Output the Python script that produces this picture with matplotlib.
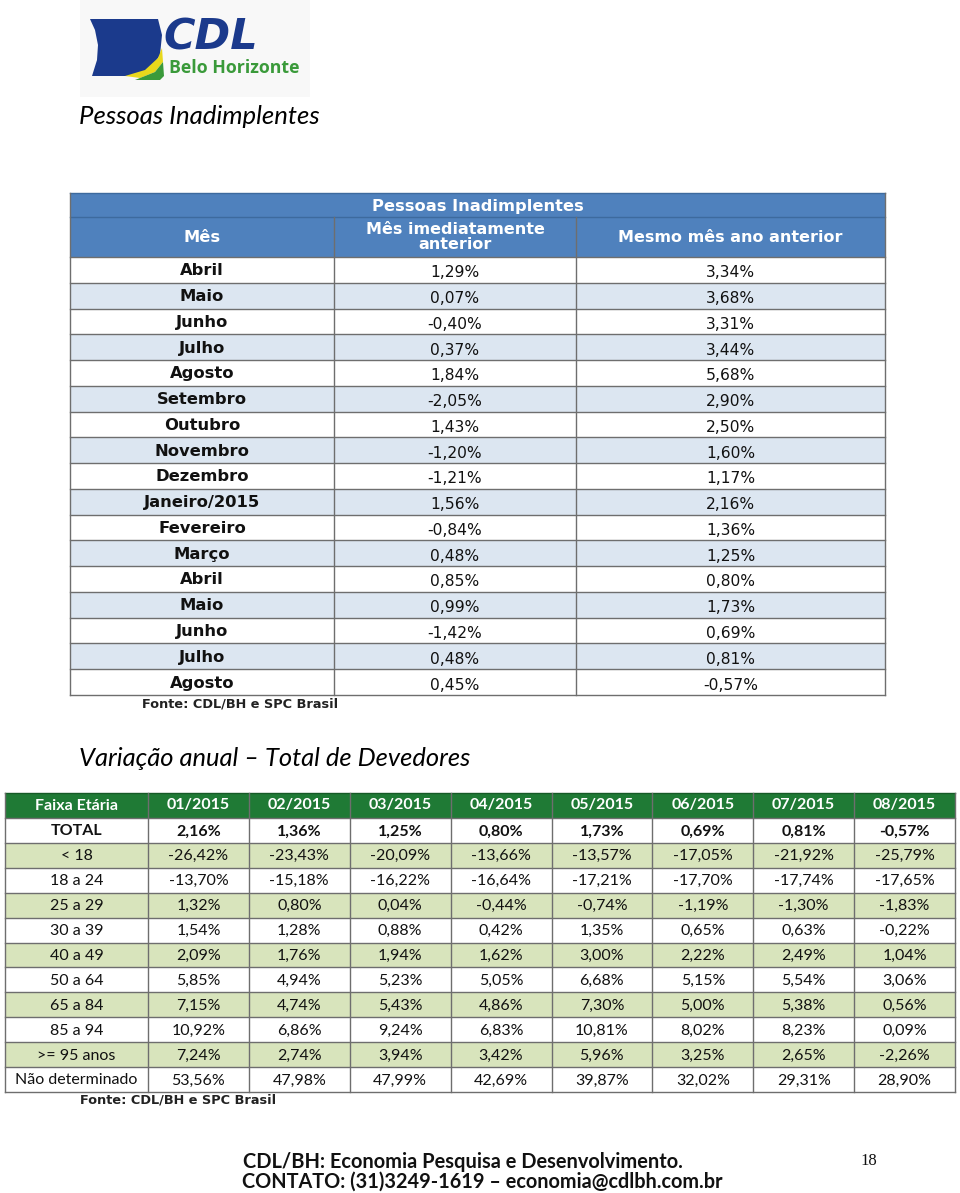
import matplotlib
matplotlib.use("Agg")
import matplotlib.pyplot as plt
from matplotlib.patches import Rectangle, Polygon

# ---------------- data ----------------
meses = ['Abril', 'Maio', 'Junho', 'Julho', 'Agosto', 'Setembro', 'Outubro',
         'Novembro', 'Dezembro', 'Janeiro/2015', 'Fevereiro', 'Março', 'Abril',
         'Maio', 'Junho', 'Julho', 'Agosto']
mes_anterior = [1.29, 0.07, -0.40, 0.37, 1.84, -2.05, 1.43, -1.20, -1.21, 1.56,
                -0.84, 0.48, 0.85, 0.99, -1.42, 0.48, 0.45]
ano_anterior = [3.34, 3.68, 3.31, 3.44, 5.68, 2.90, 2.50, 1.60, 1.17, 2.16,
                1.36, 1.25, 0.80, 1.73, 0.69, 0.81, -0.57]

periodos = ['01/2015', '02/2015', '03/2015', '04/2015', '05/2015', '06/2015',
            '07/2015', '08/2015']
faixas = ['TOTAL', '< 18', '18 a 24', '25 a 29', '30 a 39', '40 a 49',
          '50 a 64', '65 a 84', '85 a 94', '>= 95 anos', 'Não determinado']
v_total = [2.16, 1.36, 1.25, 0.80, 1.73, 0.69, 0.81, -0.57]
v_menor18 = [-26.42, -23.43, -20.09, -13.66, -13.57, -17.05, -21.92, -25.79]
v_18_24 = [-13.70, -15.18, -16.22, -16.64, -17.21, -17.70, -17.74, -17.65]
v_25_29 = [1.32, 0.80, 0.04, -0.44, -0.74, -1.19, -1.30, -1.83]
v_30_39 = [1.54, 1.28, 0.88, 0.42, 1.35, 0.65, 0.63, -0.22]
v_40_49 = [2.09, 1.76, 1.94, 1.62, 3.00, 2.22, 2.49, 1.04]
v_50_64 = [5.85, 4.94, 5.23, 5.05, 6.68, 5.15, 5.54, 3.06]
v_65_84 = [7.15, 4.74, 5.43, 4.86, 7.30, 5.00, 5.38, 0.56]
v_85_94 = [10.92, 6.86, 9.24, 6.83, 10.81, 8.02, 8.23, 0.09]
v_95 = [7.24, 2.74, 3.94, 3.42, 5.96, 3.25, 2.65, -2.26]
v_nd = [53.56, 47.98, 47.99, 42.69, 39.87, 32.02, 29.31, 28.90]


def pct(v):
    return f"{v:.2f}".replace('.', ',') + '%'


fig = plt.figure(figsize=(9.6, 11.93), dpi=100)
ax = fig.add_axes([0, 0, 1, 1])
ax.set_xlim(0, 960)
ax.set_ylim(1193, 0)
ax.axis('off')

# ---------------- logo ----------------
ax.add_patch(Rectangle((80, 0), 230, 97, facecolor='#f8f8f8', edgecolor='none'))
ax.add_patch(Polygon([(90, 19), (158, 19), (162, 35), (160, 55), (150, 70),
                      (135, 76), (92, 76), (97, 60), (98, 45), (95, 30)],
                     closed=True, facecolor='#1b3a8c', edgecolor='none'))
ax.add_patch(Polygon([(125, 76), (145, 70), (158, 58), (162, 48), (163, 62),
                      (155, 72), (140, 78)], closed=True,
                     facecolor='#e8d81c', edgecolor='none'))
ax.add_patch(Polygon([(140, 78), (155, 72), (163, 62), (164, 76), (160, 80),
                      (135, 80)], closed=True, facecolor='#3a9a3a', edgecolor='none'))
ax.text(163, 37, 'CDL', fontsize=31, fontweight='bold', style='italic',
        color='#1b3a8c', va='center', ha='left', family='DejaVu Sans')
ax.text(169, 68, 'Belo Horizonte', fontsize=12.8, fontweight='bold',
        color='#3a9a3a', va='center', ha='left', family='Open Sans')

# ---------------- titles ----------------
ax.text(79, 116, 'Pessoas Inadimplentes', fontsize=18.5, style='italic',
        va='center', ha='left', family='Lato')
ax.text(79, 758, 'Variação anual – Total de Devedores', fontsize=18.4,
        style='italic', va='center', ha='left', family='Lato')

# ---------------- table 1 ----------------
line_c = '#6e6e6e'
hdr_blue = '#4f81bd'
row_blue = '#dce6f1'
x0, x1, x2, x3 = 70, 334, 576, 885
y_h0, y_h1, y_h2 = 193, 217, 257
rh = 25.76
f1 = 'DejaVu Sans'

ax.add_patch(Rectangle((x0, y_h0), x3 - x0, y_h2 - y_h0, facecolor=hdr_blue,
                       edgecolor='none'))
ax.text((x0 + x3) / 2, (y_h0 + y_h1) / 2 + 1, 'Pessoas Inadimplentes', fontsize=11.7,
        fontweight='bold', color='white', ha='center', va='center', family=f1)
ax.text((x0 + x1) / 2, (y_h1 + y_h2) / 2, 'Mês', fontsize=11.7, fontweight='bold',
        color='white', ha='center', va='center', family=f1)
ax.text((x1 + x2) / 2, (y_h1 + y_h2) / 2, 'Mês imediatamente\nanterior', fontsize=11.5,
        fontweight='bold', color='white', ha='center', va='center', family=f1,
        linespacing=0.95)
ax.text((x2 + x3) / 2, (y_h1 + y_h2) / 2 + 1, 'Mesmo mês ano anterior', fontsize=11.5,
        fontweight='bold', color='white', ha='center', va='center', family=f1)

for i, m in enumerate(meses):
    yt = y_h2 + i * rh
    fc = row_blue if i % 2 == 1 else 'white'
    ax.add_patch(Rectangle((x0, yt), x3 - x0, rh, facecolor=fc, edgecolor='none'))
    yc = yt + rh / 2 + 1
    ax.text((x0 + x1) / 2, yc, m, fontsize=11.8, fontweight='bold', ha='center',
            va='center', family=f1, color='#111111')
    ax.text((x1 + x2) / 2, yc + 2, pct(mes_anterior[i]), fontsize=11.2, ha='center',
            va='center', family=f1, color='#111111')
    ax.text((x2 + x3) / 2, yc + 2, pct(ano_anterior[i]), fontsize=11.2, ha='center',
            va='center', family=f1, color='#111111')

y_end1 = y_h2 + len(meses) * rh
for k in range(len(meses) + 1):
    yy = y_h2 + k * rh
    ax.plot([x0, x3], [yy, yy], color=line_c, lw=1)
ax.plot([x0, x3], [y_h1, y_h1], color='#3d6a9e', lw=1)
ax.plot([x0, x3], [y_h0, y_h0], color='#3d6a9e', lw=1)
ax.plot([x1, x1], [y_h1, y_end1], color=line_c, lw=1)
ax.plot([x2, x2], [y_h1, y_end1], color=line_c, lw=1)
ax.plot([x0, x0], [y_h0, y_end1], color=line_c, lw=1)
ax.plot([x3, x3], [y_h0, y_end1], color=line_c, lw=1)
ax.text(240, 704, 'Fonte: CDL/BH e SPC Brasil', fontsize=9.3, fontweight='bold',
        ha='center', va='center', family=f1, color='#222222')

# ---------------- table 2 ----------------
f2 = 'Lato'
hdr_green = '#1f7a35'
row_green = '#d8e4bc'
tx0, tx1, tx_end = 5, 148, 955
cw = (tx_end - tx1) / len(periodos)
ty0, ty1 = 793, 818
rh2 = 24.9
linhas = [v_total, v_menor18, v_18_24, v_25_29, v_30_39, v_40_49, v_50_64,
          v_65_84, v_85_94, v_95, v_nd]

ax.add_patch(Rectangle((tx0, ty0), tx_end - tx0, ty1 - ty0, facecolor=hdr_green,
                       edgecolor='none'))
ax.text((tx0 + tx1) / 2, (ty0 + ty1) / 2, 'Faixa Etária', fontsize=11.5,
        fontweight='bold', color='white', ha='center', va='center', family=f2)
for j, p in enumerate(periodos):
    ax.text(tx1 + (j + 0.5) * cw, (ty0 + ty1) / 2, p, fontsize=11.5,
            fontweight='bold', color='white', ha='center', va='center', family=f2)

for i, (fx, vals) in enumerate(zip(faixas, linhas)):
    yt = ty1 + i * rh2
    fc = row_green if i % 2 == 1 else 'white'
    ax.add_patch(Rectangle((tx0, yt), tx_end - tx0, rh2, facecolor=fc, edgecolor='none'))
    bold = 'bold' if i == 0 else 'normal'
    yc = yt + rh2 / 2 + 1
    ax.text((tx0 + tx1) / 2, yc, fx, fontsize=11.5, fontweight=bold, ha='center',
            va='center', family=f2, color='#111111')
    for j, v in enumerate(vals):
        ax.text(tx1 + (j + 0.5) * cw, yc, pct(v), fontsize=11.5, fontweight=bold,
                ha='center', va='center', family=f2, color='#111111')

ty_end = ty1 + len(faixas) * rh2
for k in range(len(faixas) + 1):
    yy = ty1 + k * rh2
    ax.plot([tx0, tx_end], [yy, yy], color=line_c, lw=1)
ax.plot([tx0, tx_end], [ty0, ty0], color='#155a26', lw=1)
for xx in [tx0, tx1] + [tx1 + (j + 1) * cw for j in range(len(periodos))]:
    ax.plot([xx, xx], [ty0, ty_end], color=line_c, lw=1)
ax.text(178, 1100, 'Fonte: CDL/BH e SPC Brasil', fontsize=9.3, fontweight='bold',
        ha='center', va='center', family=f1, color='#222222')

# ---------------- footer ----------------
ax.text(243, 1162, 'CDL/BH: Economia Pesquisa e Desenvolvimento.', fontsize=14.4,
        fontweight='bold', ha='left', va='center', family=f2, color='#111111')
ax.text(242, 1182, 'CONTATO: (31)3249-1619 – economia@cdlbh.com.br', fontsize=14.3,
        fontweight='bold', ha='left', va='center', family=f2, color='#111111')
ax.text(860, 1161, '18', fontsize=12, ha='left', va='center',
        family='Liberation Serif', color='#111111')

fig.savefig('out.png', dpi=100)
